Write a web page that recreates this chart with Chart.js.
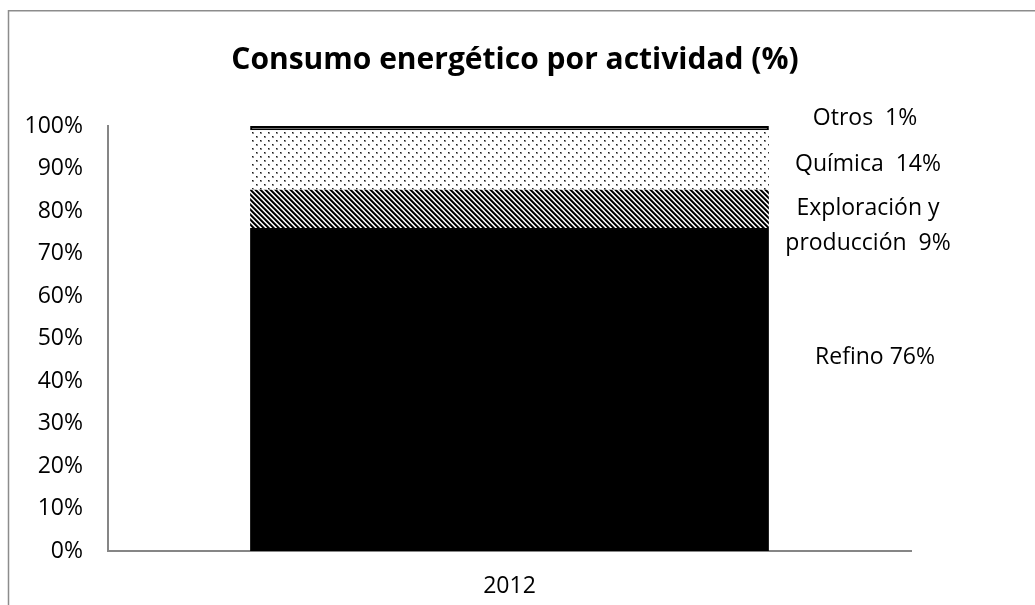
<!DOCTYPE html>
<html>
<head>
<meta charset="utf-8">
<script src="https://cdn.jsdelivr.net/npm/chart.js@4/dist/chart.umd.min.js"></script>
<style>
  html, body { margin: 0; padding: 0; background: #fff; }
  #wrap { width: 1035px; height: 605px; }
</style>
</head>
<body>
<div id="wrap"><canvas id="grafico" width="1035" height="605"></canvas></div>
<script>
// datos del gráfico
const categorias = ['2012'];
const refino = [76];
const exploracion = [9];
const quimica = [14];
const otros = [1];
const nombres = ['Refino', 'Exploración y producción', 'Química', 'Otros'];
const etiquetas = [['Otros  1%'], ['Química  14%'], ['Exploración y', 'producción  9%'], ['Refino 76%']];
const titulo = 'Consumo energético por actividad (%)';

const fuente = "'Open Sans', 'DejaVu Sans', sans-serif";

// trama de puntos
function tramaPuntos() {
    const c = document.createElement('canvas');
    c.width = 8; c.height = 8;
    const g = c.getContext('2d');
    g.fillStyle = '#fff';
    g.fillRect(0, 0, 8, 8);
    g.fillStyle = '#8a8a8a';
    g.fillRect(0, 0, 2, 2);
    g.fillRect(4, 4, 2, 2);
    g.fillStyle = '#1a1a1a';
    g.fillRect(0, 0, 1, 1);
    g.fillRect(4, 4, 1, 1);
    return g.createPattern(c, 'repeat');
}

// trama de rayas diagonales
function tramaRayas() {
    const n = 5;
    const tonos = ['#000', '#000', '#555', '#fff', '#bbb'];
    const c = document.createElement('canvas');
    c.width = n; c.height = n;
    const g = c.getContext('2d');
    for (let y = 0; y < n; y++) {
        for (let x = 0; x < n; x++) {
            g.fillStyle = tonos[((x - y) % n + n) % n];
            g.fillRect(x, y, 1, 1);
        }
    }
    return g.createPattern(c, 'repeat');
}

// marco gris y título
const marco = {
    id: 'marco',
    beforeDraw(chart) {
        const ctx = chart.ctx;
        ctx.save();
        ctx.fillStyle = '#fff';
        ctx.fillRect(0, 0, chart.width, chart.height);
        ctx.strokeStyle = '#8c8c8c';
        ctx.lineWidth = 1.5;
        ctx.strokeRect(8.5, 10.75, 1200, 800);
        ctx.fillStyle = '#000';
        ctx.font = 'bold 30px ' + fuente;
        ctx.textAlign = 'center';
        ctx.textBaseline = 'middle';
        ctx.fillText(titulo, 515, 60);
        ctx.restore();
    }
};

// etiquetas a la derecha de la barra
const rotulos = {
    id: 'rotulos',
    afterDraw(chart) {
        const ctx = chart.ctx;
        const area = chart.chartArea;
        const y = chart.scales.y;
        // posiciones (centro x, centro y) de cada rótulo
        const pos = [
            [area.right - 46, y.getPixelForValue(100) - 8],
            [area.right - 43, y.getPixelForValue(91)],
            [area.right - 43, y.getPixelForValue(80.5)],
            [area.right - 36, y.getPixelForValue(45.5)]
        ];
        ctx.save();
        ctx.fillStyle = '#000';
        ctx.font = '23px ' + fuente;
        ctx.textAlign = 'center';
        ctx.textBaseline = 'middle';
        etiquetas.forEach((lineas, i) => {
            lineas.forEach((t, j) => {
                ctx.fillText(t, pos[i][0], pos[i][1] + j * 35);
            });
        });
        ctx.restore();
    }
};

const ctx = document.getElementById('grafico').getContext('2d');
const grafico = new Chart(ctx, {
    type: 'bar',
    data: {
        labels: categorias,
        datasets: [{
            label: nombres[0],
            data: refino,
            backgroundColor: '#000',
            borderWidth: 0
        }, {
            label: nombres[1],
            data: exploracion,
            backgroundColor: tramaRayas(),
            borderWidth: 0
        }, {
            label: nombres[2],
            data: quimica,
            backgroundColor: tramaPuntos(),
            borderWidth: 0
        }, {
            label: nombres[3],
            data: otros,
            backgroundColor: '#fff',
            borderColor: '#000',
            borderWidth: 2,
            borderSkipped: false
        }]
    },
    options: {
        responsive: false,
        animation: false,
        categoryPercentage: 1,
        barPercentage: 0.646,
        layout: { padding: { left: 0, right: 124, top: 126, bottom: 0 } },
        plugins: {
            legend: { display: false },
            tooltip: { enabled: false },
            title: { display: false }
        },
        scales: {
            x: {
                stacked: true,
                grid: { display: false, drawTicks: false },
                border: { display: true, color: '#868686', width: 2 },
                ticks: { color: '#000', padding: 22, font: { family: fuente, size: 23 } },
                afterFit(scale) { scale.height = 54; }
            },
            y: {
                stacked: true,
                min: 0,
                max: 100,
                grid: { display: false, drawTicks: false },
                border: { display: true, color: '#868686', width: 2 },
                ticks: {
                    stepSize: 10,
                    color: '#000',
                    padding: 25,
                    font: { family: fuente, size: 23 },
                    callback: v => v + '%'
                },
                afterFit(scale) { scale.width = 108; }
            }
        }
    },
    plugins: [marco, rotulos]
});
</script>
</body>
</html>
